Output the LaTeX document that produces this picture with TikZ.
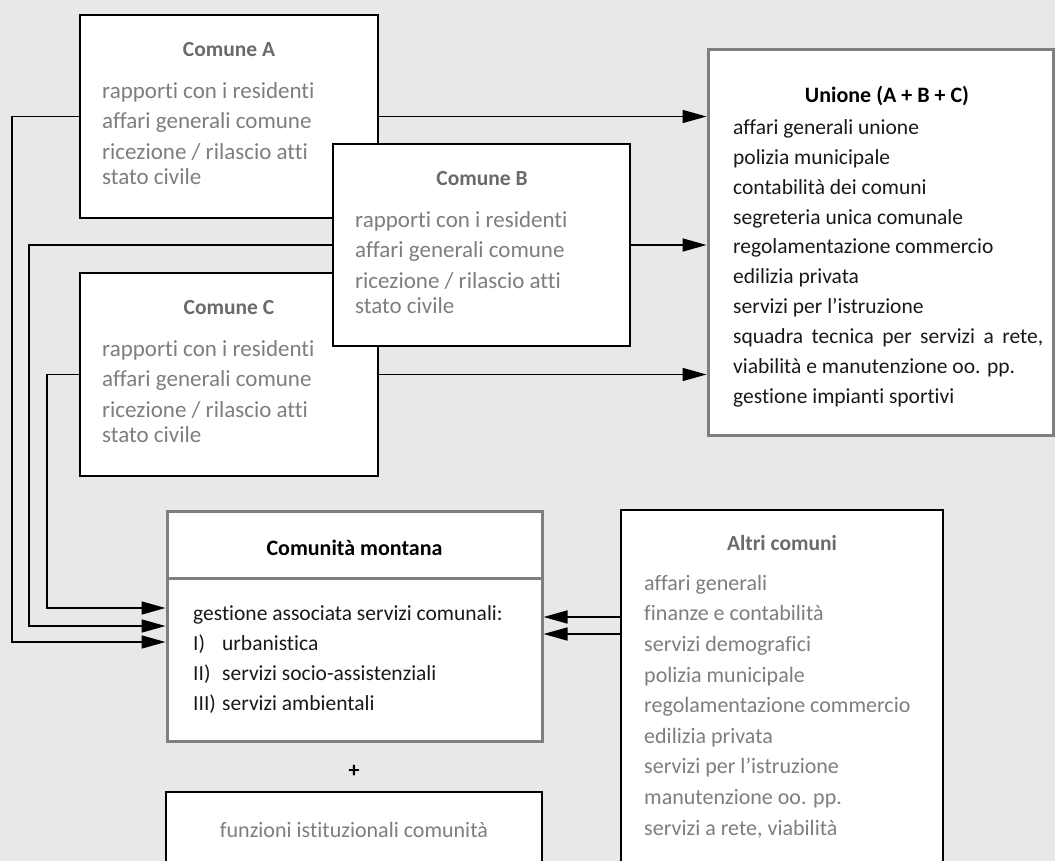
\documentclass[tikz,border=0pt]{standalone}
\usepackage{fontspec}
\setmainfont{Carlito}[RawFeature={-liga;-clig;-dlig}]
\usetikzlibrary{arrows.meta}
\definecolor{bg}{HTML}{E8E8E8}
\definecolor{txtgray}{HTML}{7E7E7E}
\definecolor{ttlgray}{HTML}{6A6A6A}
\definecolor{brd}{HTML}{7F7F7F}
\begin{document}
\begin{tikzpicture}[x=1pt,y=-1pt,
  box/.style={draw=black, line width=1.6pt, fill=white, inner sep=0pt, outer sep=0pt, anchor=north west},
  gbox/.style={draw=brd, line width=3pt, fill=white, inner sep=0pt, outer sep=0pt, anchor=north west},
  ttl/.style={font=\fontsize{21.5}{26}\selectfont\bfseries, text=ttlgray, inner sep=0pt, anchor=mid, yshift=-5pt},
  bttl/.style={font=\fontsize{22}{26}\selectfont\bfseries, text=black, inner sep=0pt, anchor=mid, yshift=-5pt},
  gline/.style={font=\fontsize{23}{28}\selectfont, text=txtgray, inner sep=0pt, anchor=mid west, yshift=-5pt},
  kline/.style={font=\fontsize{21.5}{26}\selectfont, text=black!90, inner sep=0pt, anchor=mid west, yshift=-5pt},
  aline/.style={font=\fontsize{22}{26}\selectfont, text=txtgray, inner sep=0pt, anchor=mid west, yshift=-5pt},
  conn/.style={draw=black, line width=1.6pt, -{Triangle[length=24pt,width=13pt]}, shorten >=1.5pt},
]
\path[use as bounding box] (0,0) rectangle (1055,861);
\fill[bg] (0,0) rectangle (1055,861);
\clip (0,0) rectangle (1055,861);

% Comune boxes
\node[box, minimum width=298pt, minimum height=203pt] (A) at (80,15) {};
\node[box, minimum width=298pt, minimum height=203pt] (C) at (80,273) {};
\node[box, minimum width=297pt, minimum height=202pt] (B) at (333,144) {};
\foreach \n in {A,B,C}{
  \node[ttl] (\n t) at ([shift={(149,34)}]\n.north west) {Comune \n};
  \node[gline] (\n 1) at ([shift={(22,76)}]\n.north west) {rapporti con i residenti};
  \node[gline] (\n 2) at ([shift={(22,106.5)}]\n.north west) {affari generali comune};
  \node[gline] (\n 3) at ([shift={(22,137)}]\n.north west) {ricezione / rilascio atti};
  \node[gline] (\n 4) at ([shift={(22,162)}]\n.north west) {stato civile};
}

% Unione
\node[gbox, minimum width=345pt, minimum height=385pt] (U) at (708,50) {};
\node[bttl] (Ut) at (887,95) {Unione (A + B + C)};
\foreach \t [count=\i] in {affari generali unione, polizia municipale, contabilità dei comuni, segreteria unica comunale, regolamentazione commercio, edilizia privata, servizi per l’istruzione, {\makebox[310pt][s]{squadra tecnica per servizi a rete,}}, viabilità e manutenzione oo. pp., gestione impianti sportivi}{
  \node[kline] (U\i) at (733,{127+29.9*(\i-1)}) {\t};
}

% Comunita montana
\node[gbox, minimum width=375pt, minimum height=230pt] (CM) at (167,511) {};
\coordinate (dv) at (167,578);
\draw[brd, line width=3pt] (dv) -- (dv -| CM.east);
\node[bttl] (CMt) at (354.5,548) {Comunità montana};
\node[kline] (CM0) at (193,613) {gestione associata servizi comunali:};
\node[kline] (CMn1) at (193,643) {I)};
\node[kline] (CMs1) at (222,643) {urbanistica};
\node[kline] (CMn2) at (193,673) {II)};
\node[kline] (CMs2) at (222,673) {servizi socio-assistenziali};
\node[kline] (CMn3) at (193,703) {III)};
\node[kline] (CMs3) at (222,703) {servizi ambientali};

\node[bttl] (plus) at (354,770) {+};
\node[box, minimum width=376pt, minimum height=120pt] (F) at (166,792) {};
\node[aline, anchor=mid] (Ft) at (354,830) {funzioni istituzionali comunità};

% Altri comuni
\node[box, minimum width=322pt, minimum height=400pt] (AC) at (621,510) {};
\node[ttl] (ACt) at (782,543) {Altri comuni};
\foreach \t [count=\i] in {affari generali, finanze e contabilità, servizi demografici, polizia municipale, regolamentazione commercio, edilizia privata, servizi per l’istruzione, manutenzione oo. pp., {servizi a rete, viabilità}}{
  \node[aline] (AC\i) at (644,{583+30.6*(\i-1)}) {\t};
}

% connectors to Unione
\draw[conn] (A.east) -- (A.east -| U.west);
\draw[conn] (B.east) -- (B.east -| U.west);
\draw[conn] (C.east) -- (C.east -| U.west);

% connectors to Comunita montana
\coordinate (pa) at (12,642);
\coordinate (pb) at (29,626);
\coordinate (pc) at (47,608);
\draw[conn] (A.west) -| (pa) -- (pa -| CM.west);
\draw[conn] (B.west) -| (pb) -- (pb -| CM.west);
\draw[conn] (C.west) -| (pc) -- (pc -| CM.west);

\coordinate (r1) at (621,617);
\coordinate (r2) at (621,634);
\draw[conn] (r1) -- (r1 -| CM.east);
\draw[conn] (r2) -- (r2 -| CM.east);
\end{tikzpicture}
\end{document}
